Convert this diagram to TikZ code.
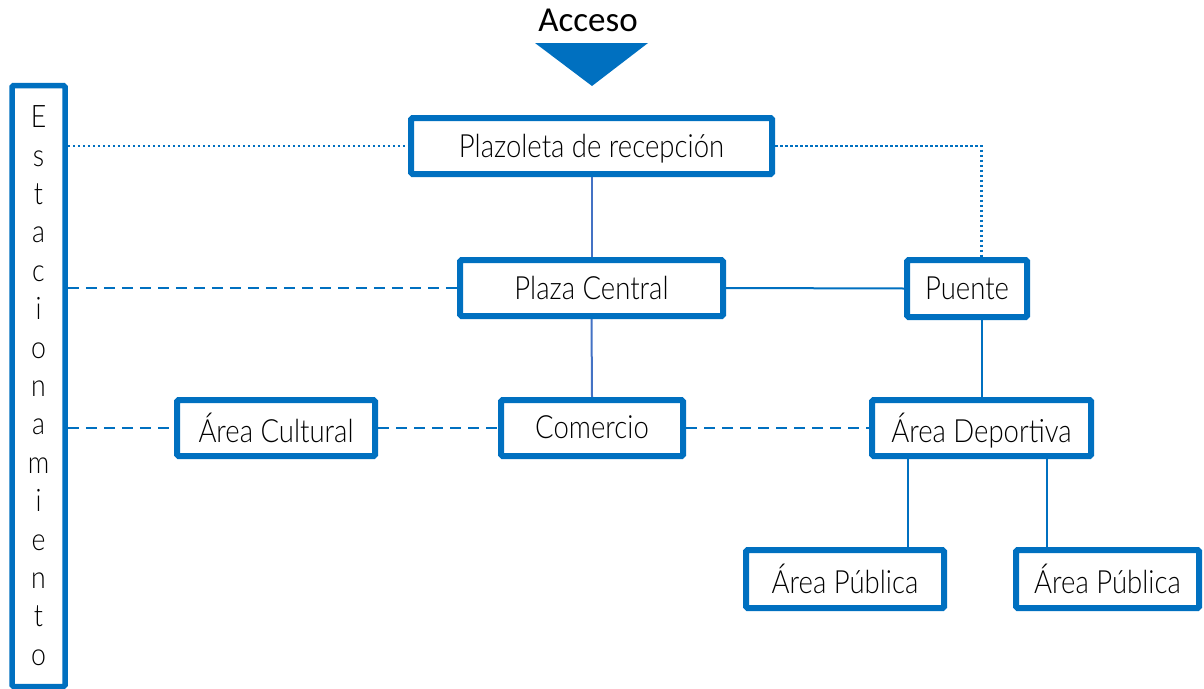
\documentclass[tikz,border=0pt]{standalone}
\usepackage{fontspec}
\setmainfont{Carlito}
\newfontfamily\lightfont{Lato Light}[FakeStretch=0.86]
\usetikzlibrary{backgrounds}
\definecolor{boxblue}{HTML}{0070C0}
\definecolor{lineblue}{HTML}{4472C4}
\begin{document}
\begin{tikzpicture}[x=1pt,y=-1pt,
 box/.style={draw=boxblue, line width=6pt, rounded corners=1.5pt, inner sep=0pt, fill=white,
   font=\lightfont\fontsize{32}{34}\selectfont, text depth=1pt},
 solidlink/.style={draw=boxblue, line width=2pt},
 solidlinkb/.style={draw=lineblue, line width=2pt},
 dashlink/.style={draw=boxblue, line width=2.2pt, dash pattern=on 11pt off 7pt},
 dotlink/.style={draw=boxblue, line width=2.4pt, dash pattern=on 2.5pt off 2.5pt},
]
\useasboundingbox (0,0) rectangle (1204,688);

% Access label and arrow
\node[font=\fontsize{35}{38}\selectfont, inner sep=0pt] (acc) at (588,20) {Acceso};
\fill[boxblue] (535,43) -- (648,43) -- (592,86) -- cycle;

% Nodes
\node[box, minimum width=361pt, minimum height=56pt] (plz) at (591.5,146) {Plazoleta de recepción};
\node[box, minimum width=263pt, minimum height=56pt] (pc)  at (591.5,288) {Plaza Central};
\node[box, minimum width=120pt, minimum height=57pt] (pue) at (967,288.5) {Puente};
\node[box, minimum width=198pt, minimum height=56pt] (cul) at (276,428) {Área Cultural};
\node[box, minimum width=182pt, minimum height=56pt] (com) at (592,428) {Comercio};
\node[box, minimum width=219pt, minimum height=56pt] (dep) at (981.5,428) {Área Deportiva};
\node[box, minimum width=198pt, minimum height=58pt] (pub1) at (845,579) {Área Pública};
\node[box, minimum width=183pt, minimum height=58pt] (pub2) at (1107.5,579) {Área Pública};
\node[box, line width=5.5pt, minimum width=53pt, minimum height=601pt, align=center,
  font=\lightfont\fontsize{31}{38.4}\selectfont] (est) at (38.5,386)
  {E\\s\\t\\a\\c\\i\\o\\n\\a\\m\\i\\e\\n\\t\\o};

% Connectors
\begin{scope}[on background layer]
\draw[solidlinkb] (plz.south) -- (pc.north);
\draw[solidlinkb] (pc.south) -- (com.north);
\draw[solidlink] (pc.east) -- (pue.west);
\draw[solidlink] (dep.north |- pue.south) -- (dep.north);
\draw[solidlink] ([xshift=-73.5pt]dep.south) -- ([xshift=-73.5pt]dep.south |- pub1.north);
\draw[solidlink] ([xshift=65.5pt]dep.south) -- ([xshift=65.5pt]dep.south |- pub2.north);

\draw[dotlink] (est.east |- plz.west) -- (plz.west);
\draw[dotlink] (plz.east) -| (dep.north |- pue.north);

\draw[dashlink] (est.east |- pc.west) -- (pc.west);
\draw[dashlink] (est.east |- cul.west) -- (cul.west);
\draw[dashlink] (cul.east) -- (com.west);
\draw[dashlink] (com.east) -- (dep.west);
\end{scope}
\end{tikzpicture}
\end{document}
